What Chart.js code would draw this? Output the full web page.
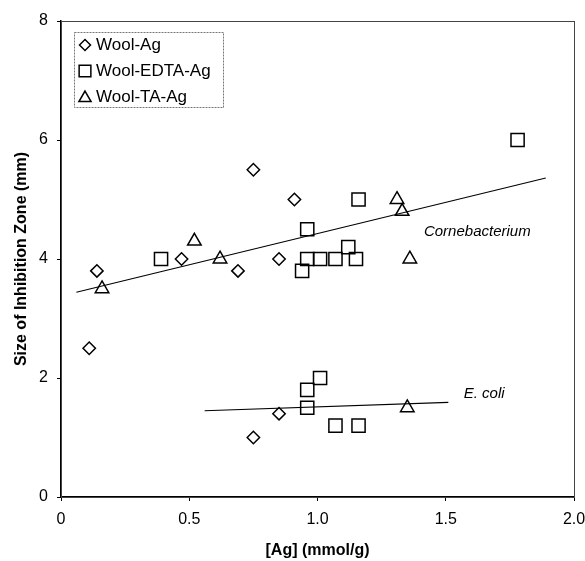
<!DOCTYPE html>
<html><head><meta charset="utf-8">
<script src="https://cdn.jsdelivr.net/npm/chart.js@4/dist/chart.umd.min.js"></script>
<style>html,body{margin:0;padding:0;background:#fff}#wrap{width:585px;height:561px}</style>
</head><body><div id="wrap"><canvas id="c" width="585" height="561"></canvas></div>
<script>
// ---- data ----
const seriesNames = ['Wool-Ag', 'Wool-EDTA-Ag', 'Wool-TA-Ag'];
const woolAgX   = [0.11, 0.14, 0.47, 0.69, 0.75, 0.85, 0.91, 0.75, 0.85];
const woolAgY   = [2.5, 3.8, 4.0, 3.8, 5.5, 4.0, 5.0, 1.0, 1.4];
const woolEdtaX = [0.39, 0.94, 0.96, 0.96, 1.01, 1.07, 1.12, 1.15, 1.16, 1.78, 0.96, 0.96, 1.01, 1.07, 1.16];
const woolEdtaY = [4.0, 3.8, 4.0, 4.5, 4.0, 4.0, 4.2, 4.0, 5.0, 6.0, 1.5, 1.8, 2.0, 1.2, 1.2];
const woolTaX   = [0.16, 0.52, 0.62, 1.31, 1.33, 1.36, 1.35];
const woolTaY   = [3.5, 4.3, 4.0, 5.0, 4.8, 4.0, 1.5];
const trendNames = ['Cornebacterium', 'E. coli'];
const corneFitX = [0.06, 1.89];
const corneFitY = [3.44, 5.36];
const ecoliFitX = [0.56, 1.51];
const ecoliFitY = [1.45, 1.59];
const xTicks = [0, 0.5, 1.0, 1.5, 2.0];
const yTicks = [0, 2, 4, 6, 8];
const xTitle = '[Ag] (mmol/g)';
const yTitle = 'Size of Inhibition Zone (mm)';
// label anchor positions in data units
const trendLabelAt = [[1.415, 4.45], [1.57, 1.74]];

const FONT = '"Liberation Sans", Arial, sans-serif';
const pts = (xs, ys) => xs.map((x, i) => ({x: x, y: ys[i]}));

const markerStyles = [
  {pointStyle: 'rectRot', radius: 6.2},
  {pointStyle: 'rect', radius: 9.3},
  {pointStyle: 'triangle', radius: 7.8}
];
const seriesData = [pts(woolAgX, woolAgY), pts(woolEdtaX, woolEdtaY), pts(woolTaX, woolTaY)];

const datasets = seriesNames.map((n, i) => ({
  type: 'scatter', label: n, data: seriesData[i],
  pointStyle: markerStyles[i].pointStyle, pointRadius: markerStyles[i].radius,
  pointBorderColor: '#000', pointBackgroundColor: 'rgba(0,0,0,0)', pointBorderWidth: 1.5,
  showLine: false
}));
[[corneFitX, corneFitY], [ecoliFitX, ecoliFitY]].forEach((f, i) => datasets.push({
  type: 'line', label: trendNames[i], data: pts(f[0], f[1]),
  borderColor: '#000', borderWidth: 1.1, pointRadius: 0, fill: false, tension: 0
}));

const framePlugin = {
  id: 'frame',
  beforeDatasetsDraw(chart) {
    const {ctx, chartArea: a} = chart;
    ctx.save();
    ctx.strokeStyle = '#444'; ctx.lineWidth = 1;
    ctx.strokeRect(a.left + 0.5, a.top + 0.5, a.right - a.left, a.bottom - a.top);
    ctx.restore();
  },
  afterDatasetsDraw(chart) {
    const {ctx} = chart;
    const xs = chart.scales.x, ys = chart.scales.y;
    ctx.save();
    ctx.fillStyle = '#000';
    ctx.font = 'italic 15px ' + FONT;
    ctx.textAlign = 'left'; ctx.textBaseline = 'middle';
    trendNames.forEach((n, i) => {
      ctx.fillText(n, xs.getPixelForValue(trendLabelAt[i][0]), ys.getPixelForValue(trendLabelAt[i][1]));
    });
    // legend
    const bx = 74, by = 32, bw = 149, bh = 75;
    ctx.strokeStyle = '#777'; ctx.lineWidth = 1; ctx.setLineDash([2, 1]);
    ctx.strokeRect(bx + 0.5, by + 0.5, bw, bh);
    ctx.setLineDash([]);
    const legendSizes = [5.5, 8.3, 7];
    seriesNames.forEach((n, i) => {
      const cy = by + 13 + i * 26;
      ctx.fillStyle = 'rgba(0,0,0,0)';
      ctx.strokeStyle = '#000'; ctx.lineWidth = 1.5;
      Chart.helpers.drawPoint(ctx, {pointStyle: markerStyles[i].pointStyle, radius: legendSizes[i], rotation: 0, borderWidth: 1.5},
        85, cy + (i === 2 ? 1 : 0));
      ctx.fillStyle = '#000';
      ctx.font = '17px ' + FONT;
      ctx.fillText(n, 96, cy);
    });
    ctx.restore();
  }
};

new Chart(document.getElementById('c'), {
  type: 'scatter',
  data: {datasets},
  options: {
    responsive: false, animation: false,
    layout: {padding: {top: 21, right: 11, left: 0, bottom: 0}},
    plugins: {legend: {display: false}, tooltip: {enabled: false}},
    scales: {
      x: {
        type: 'linear', min: 0, max: 2,
        afterFit(s) { s.height = 64; s.paddingRight = 0; s.paddingLeft = 0; },
        afterBuildTicks(s) { s.ticks = xTicks.map(v => ({value: v})); },
        ticks: {color: '#000', font: {family: FONT, size: 16}, padding: 9,
          callback: v => v === 0 ? '0' : v.toFixed(1)},
        grid: {drawOnChartArea: false, drawTicks: true, tickLength: 4, color: '#000'},
        border: {color: '#000', width: 1.5},
        title: {display: true, text: xTitle, color: '#000', font: {family: FONT, size: 16, weight: 'bold'}, padding: {top: 0, bottom: 1}}
      },
      y: {
        type: 'linear', min: 0, max: 8,
        afterFit(s) { s.width = 61; s.paddingTop = 0; s.paddingBottom = 0; },
        afterBuildTicks(s) { s.ticks = yTicks.map(v => ({value: v})); },
        ticks: {color: '#000', font: {family: FONT, size: 16}, padding: 9,
          callback: v => String(v)},
        grid: {drawOnChartArea: false, drawTicks: true, tickLength: 4, color: '#000'},
        border: {color: '#000', width: 1.5},
        title: {display: true, text: yTitle, color: '#000', font: {family: FONT, size: 16, weight: 'bold'}, padding: {top: 12, bottom: 0}}
      }
    }
  },
  plugins: [framePlugin]
});
</script></body></html>
